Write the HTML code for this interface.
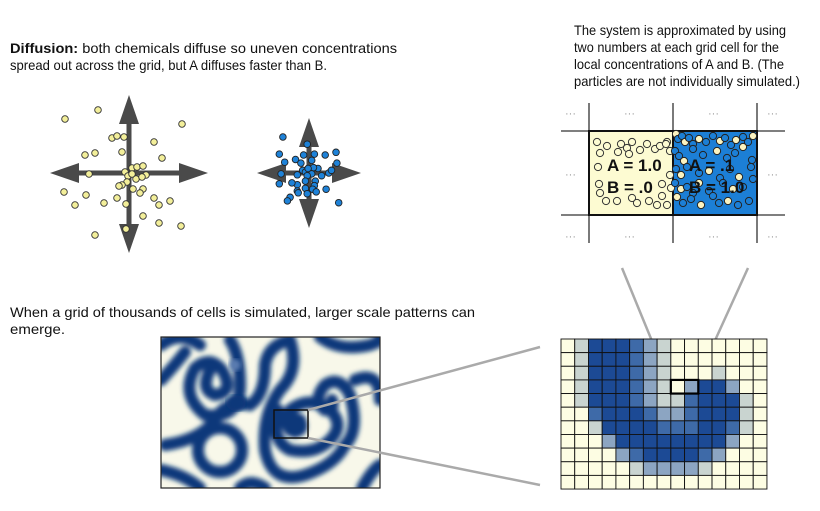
<!DOCTYPE html>
<html><head><meta charset="utf-8"><style>
html,body{margin:0;padding:0;background:#fff;}
svg{display:block;font-family:"Liberation Sans",Arial,sans-serif;}
</style></head><body>
<svg id="fig" width="820" height="511" viewBox="0 0 820 511" xmlns="http://www.w3.org/2000/svg">
<defs>
<filter id="blur" x="-5%" y="-5%" width="110%" height="110%"><feGaussianBlur stdDeviation="2.4"/></filter>
<clipPath id="pclip"><rect x="161" y="337" width="219" height="151"/></clipPath>
</defs>
<g font-size="14" fill="#111">
<text x="10" y="53" textLength="387" lengthAdjust="spacingAndGlyphs"><tspan font-weight="bold">Diffusion:</tspan> both chemicals diffuse so uneven concentrations</text>
<text x="10" y="70" textLength="317" lengthAdjust="spacingAndGlyphs">spread out across the grid, but A diffuses faster than B.</text>
</g>
<g font-size="14" fill="#111">
<text x="574" y="35" textLength="212" lengthAdjust="spacingAndGlyphs">The system is approximated by using</text>
<text x="574" y="52" textLength="205" lengthAdjust="spacingAndGlyphs">two numbers at each grid cell for the</text>
<text x="574" y="69" textLength="210" lengthAdjust="spacingAndGlyphs">local concentrations of A and B. (The</text>
<text x="574" y="86" textLength="226" lengthAdjust="spacingAndGlyphs">particles are not individually simulated.)</text>
</g>
<g font-size="14" fill="#111">
<text x="10" y="317" textLength="465" lengthAdjust="spacingAndGlyphs">When a grid of thousands of cells is simulated, larger scale patterns can</text>
<text x="10" y="334" textLength="55" lengthAdjust="spacingAndGlyphs">emerge.</text>
</g>
<g id="arrowsA"></g>
<g id="dotsA"></g>
<g id="arrowsB"></g>
<g id="dotsB"></g>
<g stroke="#333" stroke-width="1.3">
<line x1="589" y1="103" x2="589" y2="243"/><line x1="673" y1="103" x2="673" y2="243"/><line x1="757" y1="103" x2="757" y2="243"/>
<line x1="561" y1="131" x2="785" y2="131"/><line x1="561" y1="215" x2="785" y2="215"/>
</g>
<rect x="589" y="131" width="84" height="84" fill="#fdfbd2" stroke="#111" stroke-width="2"/>
<rect x="673" y="131" width="84" height="84" fill="#1c7fd6" stroke="#111" stroke-width="2"/>
<g id="cellDots"></g>
<g font-size="17" font-weight="bold" fill="#111">
<text x="607" y="171">A = 1.0</text><text x="607" y="193">B =  .0</text>
<text x="689" y="171">A =  .1</text><text x="689" y="193">B = 1.0</text>
</g>
<g fill="#999" font-size="11">
<text x="565" y="117">···</text><text x="624" y="117">···</text><text x="708" y="117">···</text><text x="767" y="117">···</text>
<text x="565" y="178">···</text><text x="767" y="178">···</text>
<text x="565" y="240">···</text><text x="624" y="240">···</text><text x="708" y="240">···</text><text x="767" y="240">···</text>
</g>
<g>
<rect x="161" y="337" width="219" height="151" fill="#f8f8ea"/>
<g clip-path="url(#pclip)" filter="url(#blur)" fill="none" stroke="#08397a" stroke-width="12" stroke-linecap="round">
<path d="M161,345 Q180,330 200,345"/>
<path d="M210,370 Q200,390 215,395 Q235,392 222,370 Q210,355 195,368 Q180,395 205,415 Q240,420 240,385 Q240,355 230,340"/>
<path d="M161,380 Q175,365 185,352"/>
<path d="M165,445 Q200,440 215,420 Q225,400 250,405 Q265,395 265,365 Q268,345 290,340"/>
<circle cx="220" cy="450" r="22"/>
<path d="M161,470 Q185,475 200,488"/>
<path d="M290,340 Q300,370 280,390 Q262,415 265,450 Q272,485 305,475 Q335,465 345,445 Q360,430 350,395 Q340,375 325,385 Q312,400 325,410 Q335,410 332,400"/>
<path d="M290,430 Q290,415 300,420 Q305,430 295,432 Q282,428 290,410 Q310,395 330,410 Q345,425 330,440 Q315,455 290,450 Q270,440 278,410"/>
<path d="M320,337 Q340,352 370,345 Q385,340 380,337"/>
<path d="M355,380 Q380,370 380,400"/>
<path d="M362,488 Q372,470 380,465"/>
<path d="M240,488 Q250,478 265,488"/>
</g>
<ellipse cx="235" cy="365" rx="6" ry="6" fill="#5a7bb0" filter="url(#blur)"/>
<ellipse cx="236" cy="403" rx="10" ry="8" fill="#08397a" filter="url(#blur)"/>
<rect x="161" y="337" width="219" height="151" fill="none" stroke="#222" stroke-width="1.2"/>
<rect x="274" y="410" width="34" height="28" fill="none" stroke="#111" stroke-width="1.5"/>
</g>
<g stroke="#aaa" stroke-width="2.5">
<line x1="308" y1="410" x2="540" y2="347"/><line x1="308" y1="438" x2="540" y2="485"/>
<line x1="668" y1="380" x2="622" y2="268"/><line x1="697" y1="380" x2="748" y2="268"/>
</g>
<g id="pix"></g>
<script>
const NS="http://www.w3.org/2000/svg";
function mk(tag,attrs,parent){const e=document.createElementNS(NS,tag);for(const k in attrs)e.setAttribute(k,attrs[k]);parent.appendChild(e);return e;}
const dotsAX=[-64,-31,53,-17,-5,-44,-12,-7,25,-34,-40,-4,33,3,8,14,-1,7,3,-2,17,13,4,14,11,-7,-10,-12,25,-65,-54,-43,30,-3,41,14,-25,30,-3,52,-34];
const dotsAY=[-54,-63,-49,-35,-36,-18,-37,-21,-31,-20,1,-1,-15,-5,-6,-7,3,6,1,9,2,4,16,16,20,12,13,25,25,19,32,22,32,31,28,43,30,50,56,53,62];
const dotsBX=[-29,-33,-27,-31,-6,6,-15,-9,3,-7,10,-1,5,-4,-1,3,-13,-2,14,7,-4,-13,6,-4,-19,-13,4,-2,8,19,-21,-24,-2,-33,-12,18,22,25,30,33,31];
const dotsBY=[-40,-21,-12,1,-20,-21,-15,-11,-14,-3,-5,-5,-6,-1,-5,1,2,3,3,9,9,13,14,17,11,20,18,23,21,18,27,31,-32,12,22,-20,0,-3,-23,33,-11];
const gA=document.getElementById('dotsA'),gB=document.getElementById('dotsB');
dotsAX.forEach((x,i)=>{const c=mk('circle',{cx:129+x,cy:173+dotsAY[i],r:3.3,fill:'#f3ef9a',stroke:'#333','stroke-width':0.9},gA);

});
function arrows(g,cx,cy,up,down,left,right){
 const col='#4a4a4a';
 mk('rect',{x:cx-2.5,y:cy-up+20,width:5,height:up+down-40,fill:col},g);
 mk('rect',{x:cx-left+20,y:cy-2.5,width:left+right-40,height:5,fill:col},g);
 mk('polygon',{points:`${cx},${cy-up} ${cx-10},${cy-up+29} ${cx+10},${cy-up+29}`,fill:col},g);
 mk('polygon',{points:`${cx},${cy+down} ${cx-10},${cy+down-29} ${cx+10},${cy+down-29}`,fill:col},g);
 mk('polygon',{points:`${cx-left},${cy} ${cx-left+29},${cy-10} ${cx-left+29},${cy+10}`,fill:col},g);
 mk('polygon',{points:`${cx+right},${cy} ${cx+right-29},${cy-10} ${cx+right-29},${cy+10}`,fill:col},g);
}
arrows(document.getElementById('arrowsA'),129,173,78,80,79,79);
arrows(document.getElementById('arrowsB'),309,173,55,55,52,52);
dotsBX.forEach((x,i)=>{const c=mk('circle',{cx:309+x*0.9,cy:173+dotsBY[i]*0.9,r:3.3,fill:'#1e82d8',stroke:'#222','stroke-width':0.9},gB);

});
const cellAX=[8,11,18,29,32,38,43,40,51,58,66,71,78,81,77,9,10,81,73,82,11,17,28,43,48,60,68,73,78];
const cellAY=[11,22,15,21,13,17,11,23,19,13,18,15,11,20,13,36,53,44,53,57,62,70,70,67,72,70,74,65,74];
const cellBX=[3,5,9,12,16,20,26,33,40,47,52,58,63,70,75,80,2,6,11,20,30,44,54,62,70,79,3,8,14,26,36,47,57,66,78,2,8,14,20,26,36,50,60,70,80,4,10,18,28,40,46,55,65,76];
const cellBY=[3,8,5,11,7,13,8,11,5,10,7,14,9,6,11,5,20,25,30,18,24,20,27,22,16,29,38,44,36,42,40,47,38,46,36,52,58,56,62,52,60,52,58,56,48,66,72,68,74,65,72,70,74,70];
const cd=document.getElementById('cellDots');
cellAX.forEach((x,i)=>{const c=mk('circle',{cx:589+x,cy:131+cellAY[i],r:3.6,fill:'#fdfbd2',stroke:'#333','stroke-width':1},cd);

});
cellBX.forEach((x,i)=>{const c=mk('circle',{cx:673+x,cy:131+cellBY[i],r:3.6,fill:(i%3===0?'#fbf3c0':'#1c7fd6'),stroke:'#222','stroke-width':1},cd);

});
const gridLevels=[
[0,1,4,4,4,3,2,1,0,0,0,0,0,0,0],
[0,1,4,4,4,3,2,1,0,0,0,0,0,0,0],
[0,1,4,4,4,3,2,1,0,0,0,1,0,0,0],
[0,1,4,4,4,3,2,1,0,2,4,4,2,0,0],
[0,1,4,4,4,3,2,1,1,3,4,4,4,1,0],
[0,0,3,4,4,4,3,2,2,3,4,4,4,1,0],
[0,0,1,4,4,4,4,3,3,3,4,4,3,1,0],
[0,0,0,2,4,4,4,4,4,4,4,4,2,0,0],
[0,0,0,0,2,3,4,4,4,4,3,2,0,0,0],
[0,0,0,0,0,1,2,2,2,2,1,0,0,0,0],
[0,0,0,0,0,0,0,0,0,0,0,0,0,0,0]];
const levelColors=['#fdfde3','#c9d4d0','#8ca5c2','#3e6aa8','#1c4a95'];
const pg=document.getElementById('pix');
const X0=561,Y0=339,CW=13.73,CH=13.64;
gridLevels.forEach((row,r)=>row.forEach((v,c)=>{
 const e=mk('rect',{x:X0+c*CW,y:Y0+r*CH,width:CW,height:CH,fill:levelColors[v],stroke:'#111','stroke-width':0.9},pg);
 
 
}));
const hb=mk('rect',{x:X0+8*CW,y:Y0+3*CH,width:2*CW,height:CH,fill:'none',stroke:'#000','stroke-width':2.2},pg);


</script>
</svg>
</body></html>
